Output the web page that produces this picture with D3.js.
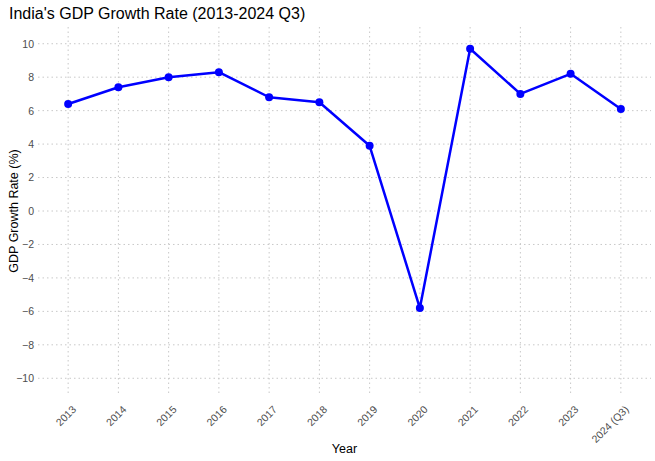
<!DOCTYPE html>
<html>
<head>
<meta charset="utf-8">
<script src="https://cdn.jsdelivr.net/npm/d3@7"></script>
<style>
  body { margin: 0; background: #fff; }
  text { font-family: "Liberation Sans", Arial, sans-serif; }
</style>
</head>
<body>
<div id="chart"></div>
<script>
const width = 655;
const height = 461;
const margin = { top: 27, right: 4, bottom: 66, left: 38 };

// data
const years = ['2013', '2014', '2015', '2016', '2017', '2018', '2019', '2020', '2021', '2022', '2023', '2024 (Q3)'];
const growth = [6.4, 7.4, 8.0, 8.3, 6.8, 6.5, 3.9, -5.8, 9.7, 7.0, 8.2, 6.1];
const yTicks = [-10, -8, -6, -4, -2, 0, 2, 4, 6, 8, 10];

const data = years.map((year, i) => ({ year, value: growth[i] }));

const svg = d3
  .select('#chart')
  .append('svg')
  .attr('width', width)
  .attr('height', height);

// x is discrete, ggplot style padding of 0.6 step on each side
const xScale = d3
  .scalePoint()
  .domain(years)
  .range([margin.left, width - margin.right])
  .padding(0.6);

const yScale = d3
  .scaleLinear()
  .domain([-11, 11])
  .range([height - margin.bottom, margin.top]);

const grid = svg.append('g').attr('stroke', '#c8c8c8').attr('stroke-dasharray', '1.5,3');

// horizontal grid
grid
  .selectAll('line.h')
  .data(yTicks)
  .enter()
  .append('line')
  .attr('class', 'h')
  .attr('x1', margin.left)
  .attr('x2', width - margin.right)
  .attr('y1', (d) => yScale(d))
  .attr('y2', (d) => yScale(d));

// vertical grid
grid
  .selectAll('line.v')
  .data(years)
  .enter()
  .append('line')
  .attr('class', 'v')
  .attr('x1', (d) => xScale(d))
  .attr('x2', (d) => xScale(d))
  .attr('y1', margin.top)
  .attr('y2', height - margin.bottom);

// Y axis
const yAxis = d3.axisLeft(yScale).tickValues(yTicks).tickSize(0).tickPadding(4);
svg
  .append('g')
  .attr('transform', `translate(${margin.left}, 0)`)
  .call(yAxis)
  .call((g) => g.select('.domain').remove())
  .selectAll('text')
  .attr('fill', '#4d4d4d')
  .attr('font-size', 10.5);

// X axis
const xAxis = d3.axisBottom(xScale).tickSize(0);
svg
  .append('g')
  .attr('transform', `translate(0, ${height - margin.bottom})`)
  .call(xAxis)
  .call((g) => g.select('.domain').remove())
  .selectAll('text')
  .attr('fill', '#4d4d4d')
  .attr('font-size', 10.5)
  .attr('text-anchor', 'end')
  .attr('dy', 0)
  .attr('transform', 'translate(6, 13) rotate(-45)');

// line
const line = d3
  .line()
  .x((d) => xScale(d.year))
  .y((d) => yScale(d.value));

svg
  .append('path')
  .datum(data)
  .attr('fill', 'none')
  .attr('stroke', '#0000ff')
  .attr('stroke-width', 2.5)
  .attr('stroke-linejoin', 'round')
  .attr('d', line);

svg
  .append('g')
  .selectAll('circle')
  .data(data)
  .enter()
  .append('circle')
  .attr('cx', (d) => xScale(d.year))
  .attr('cy', (d) => yScale(d.value))
  .attr('r', 4)
  .attr('fill', '#0000ff');

// Title
svg
  .append('text')
  .text("India's GDP Growth Rate (2013-2024 Q3)")
  .attr('x', 9)
  .attr('y', 19)
  .attr('font-size', 16)
  .attr('fill', '#000');

// X axis description
svg
  .append('text')
  .text('Year')
  .attr('text-anchor', 'middle')
  .attr('x', (margin.left + width - margin.right) / 2)
  .attr('y', 453)
  .attr('font-size', 12.5);

// Y axis description
svg
  .append('text')
  .attr('transform', 'rotate(-90)')
  .text('GDP Growth Rate (%)')
  .attr('text-anchor', 'middle')
  .attr('x', -yScale(0))
  .attr('y', 18)
  .attr('font-size', 12.5);
</script>
</body>
</html>
